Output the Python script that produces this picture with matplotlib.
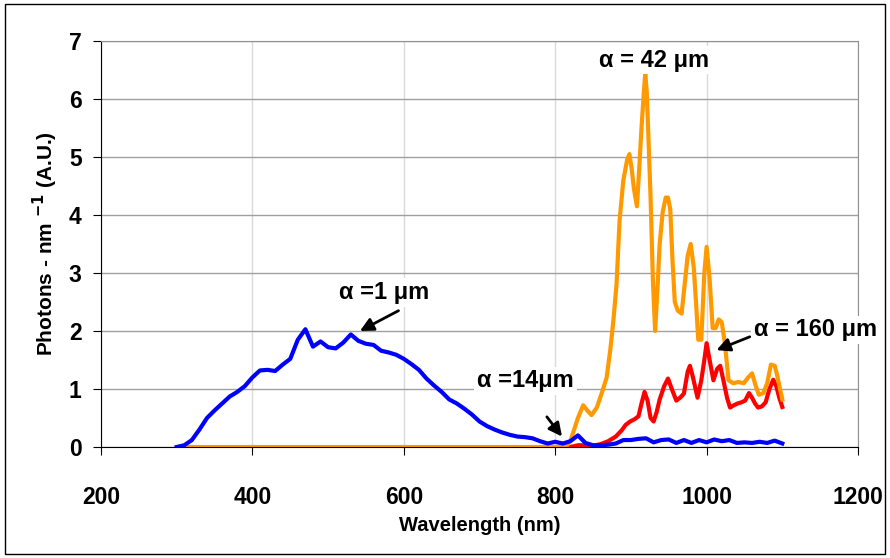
import matplotlib.pyplot as plt
from matplotlib.patches import Rectangle

plt.rcParams['font.family'] = ['Liberation Sans', 'DejaVu Sans']
plt.rcParams['font.weight'] = 'bold'
plt.rcParams['axes.labelweight'] = 'bold'
plt.rcParams['mathtext.default'] = 'bf'

# alpha = 1 um (blue)
wl_1 = [300, 310, 320, 330, 340, 350, 360, 370, 380, 390,
        400, 410, 420, 430, 440, 450, 460, 470, 480, 490,
        500, 510, 520, 530, 540, 550, 560, 570, 580, 590,
        600, 610, 620, 630, 640, 650, 660, 670, 680, 690,
        700, 710, 720, 730, 740, 750, 760, 770, 780, 790,
        800, 810, 820, 830, 840, 850, 860, 870, 880, 890,
        900, 910, 920, 930, 940, 950, 960, 970, 980, 990,
        1000, 1010, 1020, 1030, 1040, 1050, 1060, 1070, 1080, 1090,
        1100]
ph_1 = [0.0, 0.03, 0.12, 0.3, 0.5, 0.63, 0.75, 0.87, 0.95, 1.05,
        1.2, 1.32, 1.33, 1.31, 1.42, 1.52, 1.85, 2.03, 1.73, 1.82,
        1.72, 1.7, 1.8, 1.94, 1.83, 1.78, 1.76, 1.66, 1.63, 1.59,
        1.52, 1.43, 1.33, 1.18, 1.06, 0.95, 0.82, 0.75, 0.66, 0.56,
        0.44, 0.36, 0.3, 0.25, 0.21, 0.18, 0.17, 0.15, 0.1, 0.06,
        0.09, 0.06, 0.1, 0.2, 0.07, 0.03, 0.03, 0.04, 0.06, 0.12,
        0.12, 0.14, 0.15, 0.08, 0.12, 0.13, 0.07, 0.12, 0.07, 0.12,
        0.08, 0.13, 0.1, 0.12, 0.07, 0.08, 0.07, 0.09, 0.07, 0.11,
        0.06]

# alpha = 42 um (orange)
wl_42 = [310, 800, 815, 820, 825, 830, 837, 843, 848, 855,
         862, 868, 873, 877, 881, 885, 890, 895, 898, 901,
         904, 908, 911, 914, 917, 919, 921, 923, 926, 929,
         932, 935, 938, 942, 946, 949, 952, 955, 958, 962,
         967, 971, 975, 979, 983, 986, 989, 993, 997, 1000,
         1004, 1008, 1012, 1016, 1020, 1024, 1029, 1035, 1042, 1049,
         1055, 1060, 1065, 1069, 1075, 1080, 1085, 1090, 1093, 1097,
         1100]
ph_42 = [0, 0, 0.02, 0.1, 0.3, 0.5, 0.72, 0.62, 0.55, 0.68,
         0.95, 1.2, 1.7, 2.2, 2.8, 3.9, 4.6, 4.95, 5.05, 4.8,
         4.45, 4.15, 4.8, 5.5, 6.1, 6.45, 6.1, 5.4, 4.3, 2.9,
         2.0, 2.7, 3.5, 4.05, 4.3, 4.3, 4.1, 3.2, 2.5, 2.35,
         2.3, 2.8, 3.3, 3.5, 3.1, 2.5, 1.85, 1.85, 3.0, 3.45,
         2.9, 2.05, 2.05, 2.2, 2.15, 1.8, 1.15, 1.1, 1.12, 1.1,
         1.2, 1.27, 1.05, 0.9, 0.93, 1.1, 1.42, 1.4, 1.25, 1.0,
         0.82]

# alpha = 160 um (red)
wl_160 = [820, 830, 840, 850, 860, 870, 880, 888, 893, 899,
          905, 910, 914, 918, 922, 926, 930, 934, 938, 944,
          949, 954, 960, 965, 970, 975, 978, 982, 988, 993,
          997, 1000, 1004, 1009, 1014, 1018, 1023, 1027, 1031, 1036,
          1041, 1046, 1051, 1056, 1060, 1064, 1068, 1073, 1078, 1083,
          1088, 1092, 1096, 1100]
ph_160 = [0, 0.03, 0.03, 0.02, 0.05, 0.1, 0.18, 0.29, 0.38, 0.44,
          0.48, 0.53, 0.75, 0.95, 0.8, 0.5, 0.44, 0.6, 0.82, 1.05,
          1.18, 1.0, 0.8, 0.85, 0.92, 1.3, 1.4, 1.2, 0.85, 1.15,
          1.5, 1.79, 1.5, 1.15, 1.35, 1.4, 1.1, 0.85, 0.68, 0.72,
          0.75, 0.77, 0.8, 0.93, 0.85, 0.75, 0.68, 0.7, 0.77, 1.0,
          1.16, 1.05, 0.85, 0.69]

fig = plt.figure(figsize=(8.9, 5.58), dpi=100)
ax = fig.add_axes([101/890, 1 - 447/558, 757/890, 406/558])

# cadre autour de la figure
fig.patches.append(Rectangle((5/890, 4/558), 880/890, 550/558, transform=fig.transFigure,
                             fill=False, ec='black', lw=1))

ax.plot(wl_160, ph_160, color='#ff0000', lw=3, zorder=2)
ax.plot(wl_42, ph_42, color='#ff9900', lw=3, zorder=2.1)
ax.plot(wl_1, ph_1, color='#0000ff', lw=3, zorder=2.2)

ax.set_xlim(200, 1200)
ax.set_ylim(0, 7)
ax.set_xticks([200, 400, 600, 800, 1000, 1200])
ax.set_yticks(range(8))
ax.grid(axis='y', color='#a0a0a0', lw=1)
ax.grid(axis='x', color='#dadada', lw=1)
ax.set_axisbelow(True)

ax.spines['top'].set_color('#909090')
ax.spines['right'].set_color('#909090')
ax.spines['left'].set_color('black')
ax.spines['bottom'].set_color('black')
ax.tick_params(axis='x', direction='out', length=6, pad=22, labelsize=16.5)
ax.tick_params(axis='y', direction='out', length=6, pad=8, labelsize=16.5)
ax.tick_params(top=False, right=False)

ax.set_xlabel('Wavelength (nm)', fontsize=14.5, labelpad=5)
ax.set_ylabel(r'Photons - nm $^{-1}$ (A.U.)', fontsize=15, labelpad=6)

# annotations
boite = dict(fc='white', ec='none', pad=2)
fleche = dict(arrowstyle='-|>', color='black', lw=2, mutation_scale=20, shrinkA=0, shrinkB=0)

ax.text(574, 2.66, 'α =1 μm', fontsize=17, ha='center', va='center', bbox=boite, zorder=5)
ax.annotate('', xy=(542, 2.0), xytext=(593, 2.35), arrowprops=fleche)

ax.text(761, 1.14, 'α =14μm', fontsize=17, ha='center', va='center', bbox=boite, zorder=5)
ax.annotate('', xy=(809, 0.18), xytext=(789, 0.52), arrowprops=fleche)

ax.text(930, 6.67, 'α = 42 μm', fontsize=17, ha='center', va='center', bbox=boite,
        zorder=5, clip_on=False)

ax.text(1063, 2.02, 'α = 160 μm', fontsize=17, ha='left', va='center', bbox=boite,
        zorder=5, clip_on=False)
ax.annotate('', xy=(1013, 1.67), xytext=(1057, 1.9), arrowprops=fleche)

plt.savefig('out.png', dpi=100)
